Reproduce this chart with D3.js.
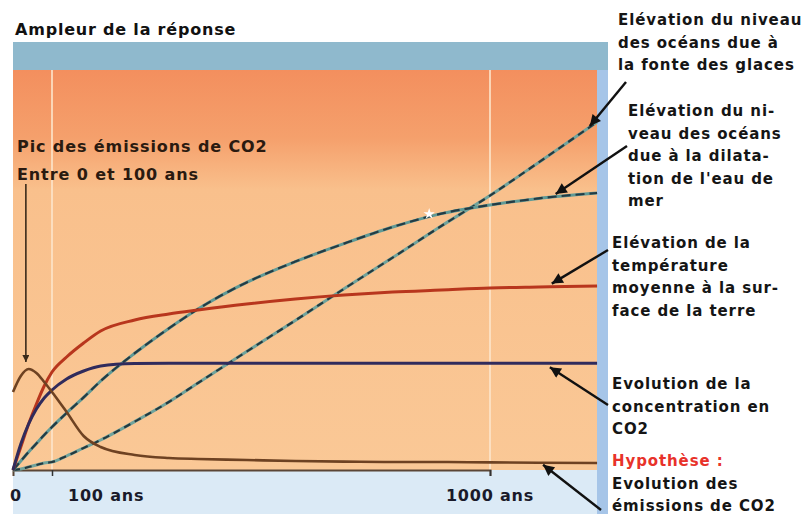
<!DOCTYPE html>
<html>
<head>
<meta charset="utf-8">
<script src="https://cdn.jsdelivr.net/npm/d3@7"></script>
<style>
  body { margin: 0; background: #fff; }
  text { font-family: "Comic Sans MS", "DejaVu Sans", sans-serif; font-weight: bold; }
</style>
</head>
<body>
<div id="chart"></div>
<script>
// années (échelle schématique) et amplitude relative de chaque réponse
const years = [0, 20, 40, 60, 80, 100, 130, 165, 200, 270, 340, 400, 500, 600, 700, 800, 900, 1000, 1100, 1220];
const emissions = [19.5, 23.5, 25.25, 24.25, 22, 19.5, 14.5, 8.5, 5.75, 3.75, 3, 2.75, 2.5, 2.25, 2.1, 2, 2, 1.9, 1.8, 1.75];
const co2 = [0, 6.5, 11.5, 15.25, 18, 20, 22.75, 24.75, 26, 26.6, 26.7, 26.7, 26.7, 26.7, 26.7, 26.7, 26.7, 26.7, 26.7, 26.7];
const temperature = [0, 5.75, 11.5, 16.5, 21, 24.5, 28.25, 31.75, 34.75, 37.5, 39, 40, 41.5, 42.75, 43.75, 44.5, 45, 45.5, 45.75, 46];
const thermalExpansion = [0, 2.25, 4.5, 6.6, 8.75, 10.75, 14.25, 18.15, 22.25, 29.2, 35.4, 40.25, 46.9, 52.1, 56.6, 60.75, 64.1, 66.25, 67.9, 69.25];
const iceMelt = [0, 0.25, 0.75, 1.25, 1.75, 2, 3.5, 5.5, 7.5, 12.1, 17, 21.75, 29.6, 37.4, 45.3, 53.1, 61, 68.6, 76.9, 87];

const tickYears = [0, 100, 1000];
const tickLabels = ["0", "100 ans", "1000 ans"];

const labels = [
    { lines: ["Elévation du niveau", "des océans due à", "la fonte des glaces"], x: 618, y: 25 },
    { lines: ["Elévation du ni-", "veau des océans", "due à la dilata-", "tion de l'eau de", "mer"], x: 628, y: 116 },
    { lines: ["Elévation de la", "température", "moyenne à la sur-", "face de la terre"], x: 612, y: 248 },
    { lines: ["Evolution de la", "concentration en", "CO2"], x: 612, y: 389 },
    { lines: ["Hypothèse :", "Evolution des", "émissions de CO2"], x: 612, y: 466, first: "#e8322a" }
];

// flèches : point visé (année, valeur) et départ en pixels
const arrows = [
    { t: 1205, v: 86, fx: 626, fy: 82 },
    { t: 1135, v: 69, fx: 627, fy: 146 },
    { t: 1127, v: 46.6, fx: 608, fy: 250 },
    { t: 1123, v: 25.7, fx: 608, fy: 405 },
    { t: 1109, v: 1.3, fx: 601, fy: 510 }
];

function drawChart(selector = "#chart") {
    const width = 808;
    const height = 514;
    const plot = { left: 13, right: 597, top: 70, bottom: 470 };

    const svg = d3.select(selector)
        .html("")
        .append("svg")
        .attr("width", width)
        .attr("height", height);

    const x = d3.scaleLinear()
        .domain([0, 100, 1000])
        .range([plot.left, 52, 490]);

    const y = d3.scaleLinear()
        .domain([0, 100])
        .range([plot.bottom, plot.top]);

    const defs = svg.append("defs");
    const grad = defs.append("linearGradient")
        .attr("id", "bg")
        .attr("x1", 0).attr("x2", 0).attr("y1", 0).attr("y2", 1);
    grad.append("stop").attr("offset", "0%").attr("stop-color", "#f38f5e");
    grad.append("stop").attr("offset", "17%").attr("stop-color", "#f5a06c");
    grad.append("stop").attr("offset", "30%").attr("stop-color", "#f9c08c");
    grad.append("stop").attr("offset", "100%").attr("stop-color", "#fac896");

    defs.append("marker")
        .attr("id", "head")
        .attr("markerUnits", "userSpaceOnUse")
        .attr("viewBox", "0 0 10 10")
        .attr("refX", 10).attr("refY", 5)
        .attr("markerWidth", 15).attr("markerHeight", 11)
        .attr("orient", "auto")
        .append("path")
        .attr("d", "M0,0L10,5L0,10z")
        .attr("fill", "#111");

    defs.append("marker")
        .attr("id", "headSmall")
        .attr("markerUnits", "userSpaceOnUse")
        .attr("viewBox", "0 0 10 10")
        .attr("refX", 10).attr("refY", 5)
        .attr("markerWidth", 9).attr("markerHeight", 7)
        .attr("orient", "auto")
        .append("path")
        .attr("d", "M0,0L10,5L0,10z")
        .attr("fill", "#3a2a1a");

    // cadre bleu, bande du haut, zone orange
    svg.append("rect")
        .attr("x", plot.left).attr("y", 42)
        .attr("width", plot.right + 11 - plot.left).attr("height", height - 42)
        .attr("fill", "#a6c5e8");
    svg.append("rect")
        .attr("x", plot.left).attr("y", 42)
        .attr("width", plot.right + 11 - plot.left).attr("height", plot.top - 42)
        .attr("fill", "#8fb9cd");
    svg.append("rect")
        .attr("x", plot.left).attr("y", plot.bottom)
        .attr("width", plot.right - plot.left).attr("height", height - plot.bottom)
        .attr("fill", "#dbeaf6");
    svg.append("rect")
        .attr("x", plot.left).attr("y", plot.top)
        .attr("width", plot.right - plot.left).attr("height", plot.bottom - plot.top)
        .attr("fill", "url(#bg)");

    svg.selectAll(".vline")
        .data([100, 1000])
        .join("line")
        .attr("class", "vline")
        .attr("x1", d => x(d)).attr("x2", d => x(d))
        .attr("y1", plot.top).attr("y2", plot.bottom)
        .attr("stroke", "#fde6cc")
        .attr("stroke-width", 2)
        .attr("opacity", 0.8);

    // axe des temps
    const axis = svg.append("g")
        .attr("transform", `translate(0,${plot.bottom})`)
        .call(d3.axisBottom(x).tickValues([100, 1000]).tickSize(6).tickFormat(""));
    axis.select(".domain").attr("stroke", "#5b4636").attr("stroke-width", 2);
    axis.selectAll(".tick line").attr("stroke", "#333").attr("stroke-width", 1.5);

    svg.selectAll(".tlabel")
        .data(tickYears)
        .join("text")
        .attr("class", "tlabel")
        .attr("x", (d, i) => x(d) + [3, 16, 0][i])
        .attr("y", 501)
        .attr("text-anchor", (d, i) => ["middle", "start", "middle"][i])
        .style("font-size", "16px")
        .style("letter-spacing", "0.8px")
        .style("fill", "#1a1a2a")
        .text((d, i) => tickLabels[i]);

    const line = d3.line()
        .x((d, i) => x(years[i]))
        .y(d => y(d))
        .curve(d3.curveMonotoneX);

    // fonte des glaces (pointillés)
    svg.append("path").attr("d", line(iceMelt))
        .attr("fill", "none").attr("stroke", "#6fa39c").attr("stroke-width", 3);
    svg.append("path").attr("d", line(iceMelt))
        .attr("fill", "none").attr("stroke", "#24393f").attr("stroke-width", 2.2)
        .attr("stroke-dasharray", "7,5");

    // dilatation thermique
    svg.append("path").attr("d", line(thermalExpansion))
        .attr("fill", "none").attr("stroke", "#5f9a96").attr("stroke-width", 3);
    svg.append("path").attr("d", line(thermalExpansion))
        .attr("fill", "none").attr("stroke", "#243b44").attr("stroke-width", 2.2)
        .attr("stroke-dasharray", "9,5");

    svg.append("path").attr("d", line(temperature))
        .attr("fill", "none").attr("stroke", "#b8361d").attr("stroke-width", 3);

    svg.append("path").attr("d", line(co2))
        .attr("fill", "none").attr("stroke", "#302b5c").attr("stroke-width", 3);

    svg.append("path").attr("d", line(emissions))
        .attr("fill", "none").attr("stroke", "#6e4222").attr("stroke-width", 2.6);

    svg.append("path")
        .attr("d", d3.symbol(d3.symbolStar, 40)())
        .attr("transform", `translate(${x(875)},${y(64)})`)
        .attr("fill", "#fff");

    // titre de l'axe vertical
    svg.append("text")
        .attr("x", 15).attr("y", 35)
        .style("font-size", "16px")
        .style("letter-spacing", "0.8px")
        .style("fill", "#111")
        .text("Ampleur de la réponse");

    const pic = svg.append("text")
        .attr("x", 17).attr("y", 152)
        .style("font-size", "16px")
        .style("letter-spacing", "0.9px")
        .style("fill", "#2a1a10");
    pic.append("tspan").text("Pic des émissions de CO2");
    pic.append("tspan").attr("x", 17).attr("y", 180).text("Entre 0 et 100 ans");

    svg.append("line")
        .attr("x1", x(33)).attr("x2", x(33))
        .attr("y1", 184).attr("y2", y(27))
        .attr("stroke", "#3a2a1a")
        .attr("stroke-width", 1.6)
        .attr("marker-end", "url(#headSmall)");

    svg.selectAll(".arrow")
        .data(arrows)
        .join("line")
        .attr("class", "arrow")
        .attr("x1", d => d.fx).attr("y1", d => d.fy)
        .attr("x2", d => x(d.t)).attr("y2", d => y(d.v))
        .attr("stroke", "#111")
        .attr("stroke-width", 2.4)
        .attr("marker-end", "url(#head)");

    // légendes à droite
    labels.forEach(lab => {
        const t = svg.append("text")
            .attr("x", lab.x).attr("y", lab.y)
            .style("font-size", "15px")
            .style("letter-spacing", "0.9px")
            .style("fill", "#151515");
        lab.lines.forEach((s, i) => {
            t.append("tspan")
                .attr("x", lab.x)
                .attr("dy", i === 0 ? 0 : 22.6)
                .style("fill", i === 0 && lab.first ? lab.first : null)
                .text(s);
        });
    });
}

drawChart();
</script>
</body>
</html>
